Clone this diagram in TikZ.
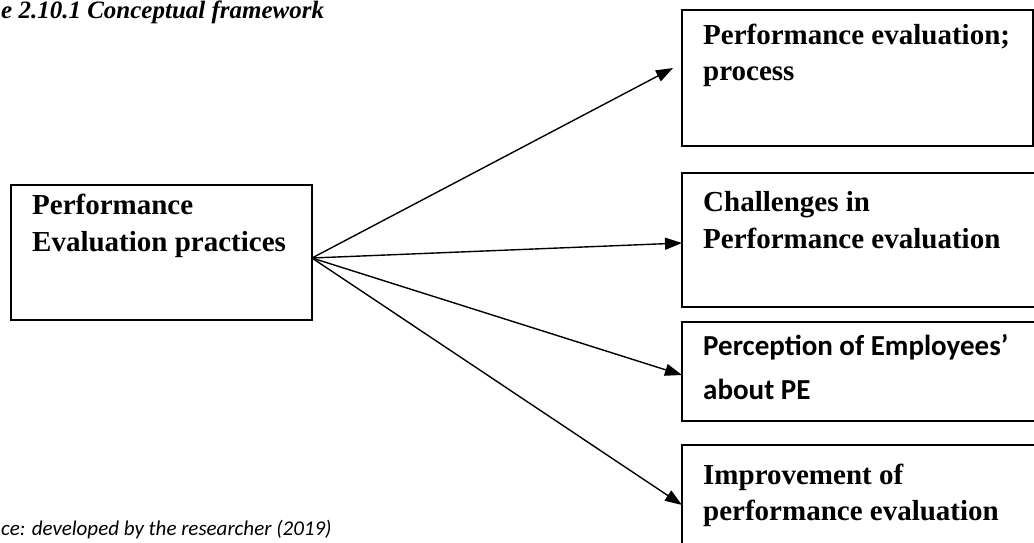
\documentclass[tikz,border=0pt]{standalone}
\usepackage{fontspec}
\setmainfont{Liberation Serif}
\newfontfamily\calfont{Carlito}
\usetikzlibrary{arrows.meta}
\begin{document}
\begin{tikzpicture}[x=1pt,y=-1pt,
  boxstyle/.style={draw=black,line width=1.5pt},
  txt/.style={anchor=base west,inner sep=0pt,font=\bfseries\fontsize{29}{35}\selectfont},
  ctxt/.style={anchor=base west,inner sep=0pt,font=\calfont\bfseries\fontsize{29}{35}\selectfont},
  conn/.style={line width=1.4pt,-{Triangle[length=17pt,width=12pt]}}]
\useasboundingbox (0,0) rectangle (1034,543);
\fill[white] (0,0) rectangle (1034,543);
% captions
\node[anchor=base west,inner sep=0pt,font=\bfseries\itshape\fontsize{25}{30}\selectfont] (cap) at (1,19) {e 2.10.1 Conceptual framework};
\node[anchor=base west,inner sep=0pt,font=\calfont\itshape\fontsize{21}{26}\selectfont] (src) at (1,535) {ce: developed by the researcher (2019)};
% boxes
\draw[boxstyle] (11,185) rectangle (312,320);
\draw[boxstyle] (682,10) rectangle (1033,146);
\draw[boxstyle] (682,173) rectangle (1045,307);
\draw[boxstyle] (682,322) rectangle (1045,421);
\draw[boxstyle] (682,445) rectangle (1045,570);
% texts
\node[txt] (la) at (32,214) {Performance};
\node[txt] (lb) at (32,251) {Evaluation practices};
\node[txt] (ra) at (703,45) {Performance evaluation;};
\node[txt] (rb) at (703,81) {process};
\node[txt] (sa) at (703,211) {Challenges in};
\node[txt] (sb) at (703,248) {Performance evaluation};
\node[ctxt] (pa) at (703,355) {Perception of Employees’};
\node[ctxt] (pb) at (703,399) {about PE};
\node[txt] (ia) at (703,484) {Improvement of};
\node[txt] (ib) at (703,520) {performance evaluation};
% connector ends
\coordinate (o) at (312,258);
\coordinate (t1) at (673,68);
\coordinate (t2) at (682,243);
\coordinate (t3) at (682,375);
\coordinate (t4) at (682,505);
\draw[conn] (o) -- (t1);
\draw[conn] (o) -- (t2);
\draw[conn] (o) -- (t3);
\draw[conn] (o) -- (t4);
\end{tikzpicture}
\end{document}
